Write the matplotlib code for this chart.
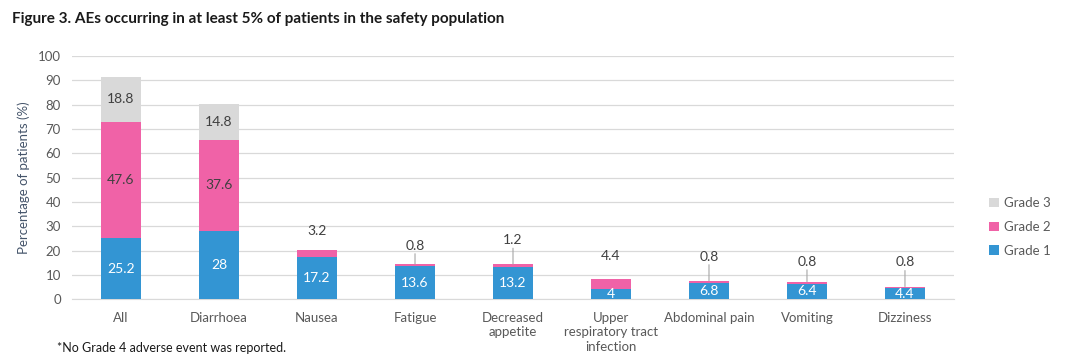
import matplotlib
matplotlib.use("Agg")
import matplotlib.pyplot as plt
import numpy as np

plt.rcParams['font.family'] = ['Lato', 'DejaVu Sans']

categories = ['All', 'Diarrhoea', 'Nausea', 'Fatigue', 'Decreased\nappetite',
              'Upper\nrespiratory tract\ninfection', 'Abdominal pain', 'Vomiting', 'Dizziness']
grade1 = [25.2, 28, 17.2, 13.6, 13.2, 4, 6.8, 6.4, 4.4]
grade2 = [47.6, 37.6, 3.2, 0.8, 1.2, 4.4, 0.8, 0.8, 0.8]
grade3 = [18.8, 14.8, 0, 0, 0, 0, 0, 0, 0]

blue = '#3395D3'
pink = '#F062A7'
grey = '#D9D9D9'
txt = '#404040'

# how far (points) the small grade 2 labels sit above the bar top
lift = [0, 0, 9, 9, 13, 12, 13, 10, 13]

fig = plt.figure(figsize=(10.8, 3.6), dpi=100)
ax = fig.add_axes([0.0667, 0.169, 0.8166, 0.675])

x = np.arange(len(categories))
g1 = np.array(grade1)
g2 = np.array(grade2)
g3 = np.array(grade3)
w = 0.4
b1 = ax.bar(x, g1, w, color=blue, label='Grade 1', zorder=3)
b2 = ax.bar(x, g2, w, bottom=g1, color=pink, label='Grade 2', zorder=3)
b3 = ax.bar(x, g3, w, bottom=g1 + g2, color=grey, label='Grade 3', zorder=3)

for i in range(len(x)):
    ax.text(x[i], g1[i] / 2, f'{grade1[i]:g}', ha='center', va='center',
            color='white', fontsize=10, zorder=4)
    if g3[i] > 0:
        ax.text(x[i], g1[i] + g2[i] / 2, f'{grade2[i]:g}', ha='center', va='center',
                color=txt, fontsize=10, zorder=4)
        ax.text(x[i], g1[i] + g2[i] + g3[i] / 2, f'{grade3[i]:g}', ha='center',
                va='center', color=txt, fontsize=10, zorder=4)
    else:
        top = g1[i] + g2[i]
        ax.annotate(f'{grade2[i]:g}', xy=(x[i], top), xytext=(0, lift[i]),
                    textcoords='offset points', ha='center', va='bottom',
                    color=txt, fontsize=10, zorder=4)
        if g2[i] < 2:
            ax.annotate('', xy=(x[i], top), xytext=(0, lift[i] - 1.5),
                        textcoords='offset points',
                        arrowprops=dict(arrowstyle='-', color='#A6A6A6', lw=0.8,
                                        shrinkA=0, shrinkB=0))

ax.set_xlim(-0.5, len(x) - 0.5)
ax.set_ylim(0, 100)
ax.set_yticks(range(0, 101, 10))
ax.set_xticks(x)
ax.set_xticklabels(categories, fontsize=9.5, color='#595959', linespacing=1.25)
ax.tick_params(axis='y', labelsize=9.5, labelcolor='#595959', length=0, pad=8)
ax.tick_params(axis='x', length=0, pad=9)
ax.grid(axis='y', color='#D9D9D9', lw=0.9, zorder=0)
for s in ['top', 'right', 'left']:
    ax.spines[s].set_visible(False)
ax.spines['bottom'].set_color('#D9D9D9')
ax.set_ylabel('Percentage of patients (%)', fontsize=9.5, color='#44546A', labelpad=6)

fig.legend(handles=[b3, b2, b1], loc='center left', bbox_to_anchor=(0.905, 0.37),
           frameon=False, fontsize=9.5, handlelength=0.7, handleheight=0.7,
           handletextpad=0.4, labelspacing=0.9, labelcolor='#595959')

fig.text(0.011, 0.948, 'Figure 3. AEs occurring in at least 5% of patients in the safety population',
         fontsize=11, fontweight='bold', color='#1a1a1a', va='center')
fig.text(0.053, 0.033, '*No Grade 4 adverse event was reported.', fontsize=9,
         color='#1a1a1a', va='center')

fig.savefig('out.png', dpi=100)
